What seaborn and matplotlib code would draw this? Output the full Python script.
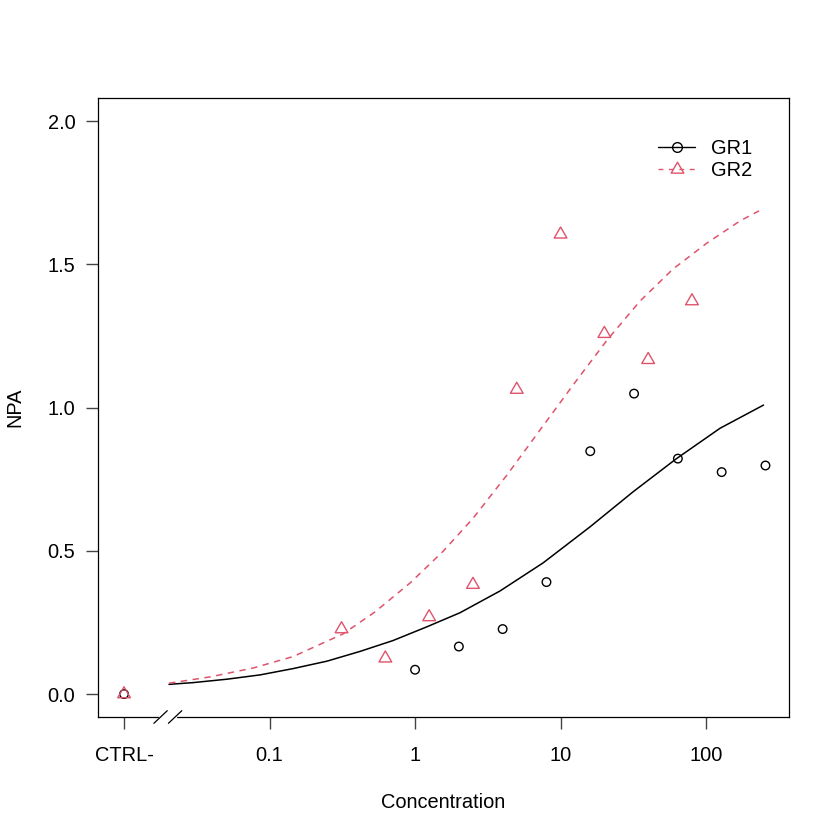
import numpy as np
import pandas as pd
import matplotlib
matplotlib.use("Agg")
import matplotlib.pyplot as plt
import matplotlib.transforms as mtransforms
from matplotlib.path import Path
import seaborn as sns

# observed data (dose 0 = negative control)
gr1_dose = [0, 1, 2, 4, 8, 16, 32, 64, 128, 256]
gr1_npa = [0.0, 0.085, 0.166, 0.227, 0.391, 0.848, 1.049, 0.822, 0.775, 0.798]
gr2_dose = [0, 0.3125, 0.625, 1.25, 2.5, 5, 10, 20, 40, 80]
gr2_npa = [0.0, 0.227, 0.125, 0.269, 0.382, 1.063, 1.605, 1.258, 1.167, 1.372]

# fitted curves (log10 dose, NPA)
gr1_fit_logdose = [-1.691, -1.526, -1.292, -1.065, -0.838, -0.605, -0.378, -0.151,
                   0.082, 0.309, 0.584, 0.880, 1.203, 1.498, 1.794, 2.096, 2.395]
gr1_fit_npa = [0.034, 0.040, 0.052, 0.067, 0.089, 0.115, 0.149, 0.187,
               0.235, 0.284, 0.360, 0.458, 0.584, 0.706, 0.821, 0.928, 1.009]
gr2_fit_logdose = [-1.691, -1.409, -1.113, -0.838, -0.495, -0.275, -0.034, 0.192,
                   0.399, 0.632, 0.859, 1.086, 1.320, 1.546, 1.773, 2.007, 2.234, 2.364]
gr2_fit_npa = [0.038, 0.060, 0.091, 0.131, 0.210, 0.287, 0.388, 0.498,
               0.614, 0.765, 0.922, 1.079, 1.236, 1.372, 1.484, 1.575, 1.652, 1.687]

x_ticks = [0.01, 0.1, 1, 10, 100]
x_ticklabels = ["CTRL-", "0.1", "1", "10", "100"]
y_ticks = [0.0, 0.5, 1.0, 1.5, 2.0]
y_ticklabels = ["0.0", "0.5", "1.0", "1.5", "2.0"]

ctrl_pos = 0.01
break_pos = 0.02
red = "#DF536B"

sns.set_style("white")
plt.rcParams["font.family"] = ["Liberation Sans", "DejaVu Sans"]
plt.rcParams["text.color"] = "black"
plt.rcParams["axes.labelcolor"] = "black"

def to_plot(d):
    d = np.asarray(d, dtype=float)
    return np.where(d == 0, ctrl_pos, d)

obs = pd.concat([
    pd.DataFrame({"dose": to_plot(gr1_dose), "npa": gr1_npa, "group": "GR1"}),
    pd.DataFrame({"dose": to_plot(gr2_dose), "npa": gr2_npa, "group": "GR2"}),
])
fit1 = pd.DataFrame({"dose": 10 ** np.array(gr1_fit_logdose), "npa": gr1_fit_npa})
fit2 = pd.DataFrame({"dose": 10 ** np.array(gr2_fit_logdose), "npa": gr2_fit_npa})

fig = plt.figure(figsize=(8.4, 8.4), dpi=100)
ax = fig.add_axes([98 / 840, 1 - 717 / 840, 691 / 840, 619 / 840])

# equilateral triangle with centroid at the point (like R pch 2)
tri = Path([(0, 1), (-0.866, -0.5), (0.866, -0.5), (0, 1)],
           [Path.MOVETO, Path.LINETO, Path.LINETO, Path.CLOSEPOLY])

sns.lineplot(data=fit1, x="dose", y="npa", color="black", lw=1.1, ax=ax,
             estimator=None, sort=False, label="_nolegend_")
sns.lineplot(data=fit2, x="dose", y="npa", color=red, lw=1.1, ax=ax,
             estimator=None, sort=False, label="_nolegend_", dashes=False)
ax.lines[-1].set_dashes([4.2, 3.6])

sns.scatterplot(data=obs[obs.group == "GR1"], x="dose", y="npa", marker="o", s=38,
                facecolor="none", edgecolor="black", linewidth=1.0, ax=ax, legend=False)
sns.scatterplot(data=obs[obs.group == "GR2"], x="dose", y="npa", marker=tri, s=112,
                facecolor="none", edgecolor=red, linewidth=1.0, ax=ax, legend=False)

ax.set_xscale("log")
ax.set_xlim(10 ** -2.179, 10 ** 2.570)
ax.set_ylim(-0.080, 2.081)
ax.set_xticks(x_ticks)
ax.set_xticklabels(x_ticklabels)
ax.xaxis.set_minor_locator(matplotlib.ticker.NullLocator())
ax.set_yticks(y_ticks)
ax.set_yticklabels(y_ticklabels)
ax.tick_params(axis="both", which="major", direction="out", length=8.3, width=1.0,
               color="#444444", labelsize=14.4, labelcolor="black")
ax.tick_params(axis="x", pad=12.6, bottom=True)
ax.tick_params(axis="y", pad=7.9, left=True)

for sp in ax.spines.values():
    sp.set_color("black")
    sp.set_linewidth(0.9)

ax.set_xlabel("Concentration", fontsize=14.4, va="center")
ax.xaxis.set_label_coords(0.5, -86 / 619)
ax.set_ylabel("NPA", fontsize=14.4, va="center")
ax.yaxis.set_label_coords(-83 / 691, 0.5)

# axis break marks
trans = mtransforms.blended_transform_factory(ax.transData, ax.transAxes)
lb = np.log10(break_pos)
ax.plot([10 ** (lb - 0.052), 10 ** (lb + 0.052)], [0, 0], color="white", lw=2.5,
        transform=trans, clip_on=False, zorder=5)
for c in (lb - 0.05, lb + 0.05):
    ax.plot([10 ** (c - 0.046), 10 ** (c + 0.046)], [-0.0102, 0.0102], color="black",
            lw=0.9, transform=trans, clip_on=False, zorder=6)

# legend
h1 = plt.Line2D([], [], color="black", lw=1.0, marker="o", ms=7.0, mfc="none", mew=1.0)
h2 = plt.Line2D([], [], color=red, lw=1.0, ls=(0, (3.5, 4)), marker=tri, ms=10.5,
                mfc="none", mew=1.0)
ax.legend([h1, h2], ["GR1", "GR2"], loc="upper left", bbox_to_anchor=(0.811, 0.934),
          frameon=False, fontsize=14.4, handlelength=1.85, handletextpad=0.8,
          borderpad=0, borderaxespad=0, labelspacing=0.15)

fig.savefig("out.png", dpi=100, facecolor="white")
